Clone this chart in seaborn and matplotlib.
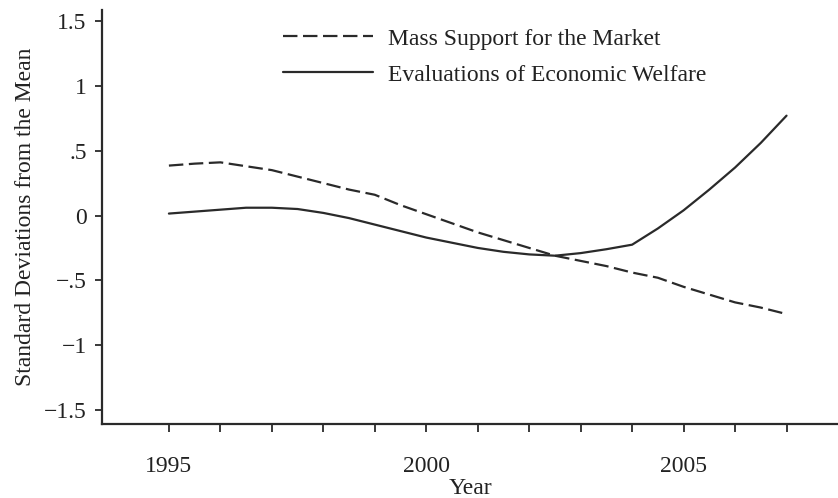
import numpy as np
import pandas as pd
import seaborn as sns
import matplotlib
matplotlib.use("Agg")
import matplotlib.pyplot as plt

sns.set_style("ticks")
plt.rcParams['font.family'] = ['Liberation Serif', 'DejaVu Serif']

# data (half-year steps)
years = [1995.0, 1995.5, 1996.0, 1996.5, 1997.0, 1997.5, 1998.0, 1998.5, 1999.0,
         1999.5, 2000.0, 2000.5, 2001.0, 2001.5, 2002.0, 2002.5, 2003.0, 2003.5,
         2004.0, 2004.5, 2005.0, 2005.5, 2006.0, 2006.5, 2007.0]
mass_support = [0.385, 0.40, 0.41, 0.38, 0.35, 0.30, 0.25, 0.20, 0.16,
                0.08, 0.01, -0.06, -0.13, -0.19, -0.25, -0.31, -0.35, -0.39,
                -0.44, -0.48, -0.55, -0.61, -0.67, -0.71, -0.76]
econ_welfare = [0.015, 0.03, 0.045, 0.06, 0.06, 0.05, 0.02, -0.02, -0.07,
                -0.12, -0.17, -0.21, -0.25, -0.28, -0.30, -0.31, -0.29, -0.26,
                -0.225, -0.10, 0.04, 0.20, 0.37, 0.56, 0.77]
series_names = ["Mass Support for the Market", "Evaluations of Economic Welfare"]

xticks = list(range(1995, 2008))
xtick_labels = ["1995" if y == 1995 else "2000" if y == 2000 else "2005" if y == 2005 else "" for y in xticks]
yticks = [1.5, 1, 0.5, 0, -0.5, -1, -1.5]
ytick_labels = ["1.5", "1", ".5", "0", "\u2212.5", "\u22121", "\u22121.5"]

df = pd.DataFrame({"Year": years * 2,
                   "value": mass_support + econ_welfare,
                   "series": [series_names[0]] * len(years) + [series_names[1]] * len(years)})

fig = plt.figure(figsize=(8.38, 4.98), dpi=100)
ax = fig.add_axes([102 / 838, 74 / 498, 736 / 838, 414 / 498])

ink = "#2a2a2a"
sns.lineplot(data=df, x="Year", y="value", style="series",
             dashes={series_names[0]: (6.5, 2.5), series_names[1]: ""},
             color=ink, linewidth=1.6, ax=ax)

ax.set_xlim(1993.70, 2008.0)
ax.set_ylim(-1.608, 1.585)
ax.set_xticks(xticks)
ax.set_xticklabels(xtick_labels)
ax.set_yticks(yticks)
ax.set_yticklabels(ytick_labels)

for s in ["top", "right"]:
    ax.spines[s].set_visible(False)
for s in ["left", "bottom"]:
    ax.spines[s].set_linewidth(1.6)
    ax.spines[s].set_color(ink)

ax.tick_params(axis="x", length=6, width=1.3, color=ink, pad=17, labelsize=17, labelcolor="#222222")
ax.tick_params(axis="y", length=5, width=1.3, color=ink, pad=6, labelsize=17, labelcolor="#222222")

ax.set_xlabel("Year", fontsize=17, color="#222222", labelpad=1)
ax.set_ylabel("Standard Deviations from the Mean", fontsize=17, color="#222222", labelpad=6)

leg = ax.legend(loc="upper left", bbox_to_anchor=(283 / 838, 1 - 28 / 498),
                bbox_transform=fig.transFigure, frameon=False, fontsize=17,
                handlelength=3.8, handletextpad=0.65, labelspacing=0.62,
                borderpad=0, borderaxespad=0)
for t in leg.get_texts():
    t.set_color("#222222")

fig.savefig("out.png", dpi=100)
